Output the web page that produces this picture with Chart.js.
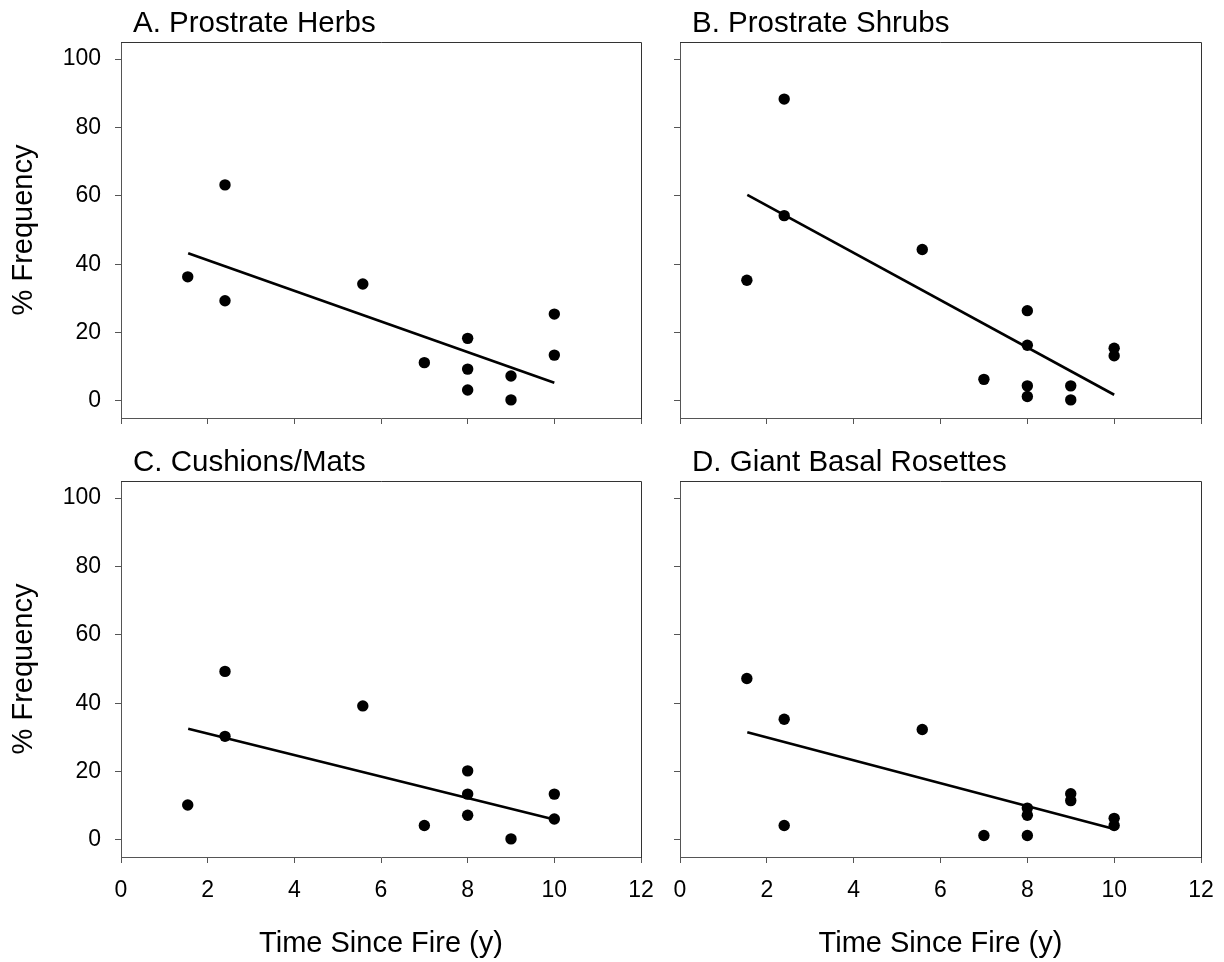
<!DOCTYPE html>
<html>
<head>
<meta charset="utf-8">
<script src="https://cdn.jsdelivr.net/npm/chart.js@4"></script>
<style>
  html, body { margin: 0; padding: 0; background: #fff; }
  #wrap { position: relative; width: 1224px; height: 962px; background: #fff; }
  #wrap canvas { position: absolute; left: 0; top: 0; }
</style>
</head>
<body>
<div id="wrap">
  <canvas id="cA" width="1224" height="962"></canvas>
  <canvas id="cB" width="1224" height="962"></canvas>
  <canvas id="cC" width="1224" height="962"></canvas>
  <canvas id="cD" width="1224" height="962"></canvas>
</div>
<script>
// ---- Data ----
const panelTitles = ["A. Prostrate Herbs", "B. Prostrate Shrubs", "C. Cushions/Mats", "D. Giant Basal Rosettes"];
const xTitle = "Time Since Fire (y)";
const yTitle = "% Frequency";
const xTicks = [0, 2, 4, 6, 8, 10, 12];
const yTicks = [0, 20, 40, 60, 80, 100];

const timeA = [1.54, 2.4, 2.4, 5.58, 7, 8, 8, 8, 9, 9, 10, 10];
const freqA = [36.3, 63.2, 29.3, 34.2, 11.2, 18.3, 9.3, 3.2, 7.3, 0.3, 25.4, 13.4];
const trendXA = [1.55, 10];
const trendYA = [43.2, 5.3];

const timeB = [1.54, 2.4, 2.4, 5.58, 7, 8, 8, 8, 8, 9, 9, 10, 10];
const freqB = [35.3, 88.3, 54.2, 44.3, 6.3, 26.4, 16.3, 4.4, 1.3, 4.4, 0.3, 15.4, 13.2];
const trendXB = [1.55, 10];
const trendYB = [60.3, 1.8];

const timeC = [1.54, 2.4, 2.4, 5.58, 7, 8, 8, 8, 9, 10, 10];
const freqC = [10.2, 49.3, 30.3, 39.2, 4.2, 20.2, 13.4, 7.2, 0.3, 13.4, 6.1];
const trendXC = [1.55, 10];
const trendYC = [32.5, 6.0];

const timeD = [1.54, 2.4, 2.4, 5.58, 7, 8, 8, 8, 9, 9, 10, 10];
const freqD = [47.2, 35.3, 4.2, 32.3, 1.3, 9.3, 7.2, 1.3, 13.5, 11.5, 6.3, 4.2];
const trendXD = [1.55, 10];
const trendYD = [31.5, 3.2];

// ---- Drawing ----
const FONT = '"Liberation Sans", Arial, Helvetica, sans-serif';
const AXIS_COLOR = '#555';

const framePlugin = {
  id: 'frame',
  afterDraw(chart) {
    const { ctx, chartArea: a } = chart;
    ctx.save();
    ctx.strokeStyle = '#333';
    ctx.lineWidth = 1;
    ctx.beginPath();
    const t = Math.round(a.top) + 0.5, r = Math.round(a.right) + 0.5;
    ctx.moveTo(Math.round(a.left), t);
    ctx.lineTo(r, t);
    ctx.lineTo(r, Math.round(a.bottom) + 1);
    ctx.stroke();
    ctx.restore();
  }
};

const panelTitlePlugin = {
  id: 'panelTitle',
  afterDraw(chart, args, opts) {
    const { ctx, chartArea: a } = chart;
    ctx.save();
    ctx.font = '29.5px ' + FONT;
    ctx.fillStyle = '#000';
    ctx.textAlign = 'left';
    ctx.textBaseline = 'alphabetic';
    ctx.fillText(opts.text, a.left + 12, a.top - 10);
    ctx.restore();
  }
};

function pts(xs, ys) { return xs.map((x, i) => ({ x: x, y: ys[i] })); }

function noPad(s) { s.paddingLeft = 0; s.paddingRight = 0; s.paddingTop = 0; s.paddingBottom = 0; }

function makePanel(id, title, xs, ys, txs, tys, layout) {
  const showXLabels = layout.bottomRow;
  const showYLabels = layout.leftCol;
  new Chart(document.getElementById(id), {
    type: 'scatter',
    data: {
      datasets: [
        {
          data: pts(xs, ys),
          pointRadius: 5.7,
          pointHoverRadius: 5.7,
          pointBackgroundColor: '#000',
          pointBorderWidth: 0,
          showLine: false
        },
        {
          data: pts(txs, tys),
          showLine: true,
          borderColor: '#000',
          borderWidth: 2.6,
          pointRadius: 0,
          pointHoverRadius: 0,
          fill: false
        }
      ]
    },
    options: {
      responsive: false,
      animation: false,
      events: [],
      devicePixelRatio: 1,
      layout: { padding: layout.padding },
      plugins: {
        legend: { display: false },
        tooltip: { enabled: false },
        title: { display: false },
        panelTitle: { text: title }
      },
      scales: {
        x: {
          type: 'linear',
          position: 'bottom',
          min: 0, max: 12,
          afterBuildTicks: s => { s.ticks = xTicks.map(v => ({ value: v })); },
          afterFit: s => { s.height = layout.xHeight; noPad(s); },
          grid: { display: true, drawOnChartArea: false, drawTicks: true, tickLength: 6, color: AXIS_COLOR, tickColor: AXIS_COLOR, tickWidth: 1 },
          border: { display: true, color: AXIS_COLOR, width: 1 },
          ticks: {
            display: showXLabels,
            autoSkip: false, maxRotation: 0, minRotation: 0,
            padding: 14,
            color: '#000',
            font: { family: FONT, size: 23 },
            callback: v => String(v)
          },
          title: {
            display: showXLabels,
            text: xTitle,
            color: '#000',
            font: { family: FONT, size: 29 },
            padding: { top: 0, bottom: 1 }
          }
        },
        y: {
          type: 'linear',
          position: 'left',
          min: -5, max: 105,
          afterBuildTicks: s => { s.ticks = yTicks.map(v => ({ value: v })); },
          afterFit: s => { s.width = layout.yWidth; noPad(s); },
          grid: { display: true, drawOnChartArea: false, drawTicks: true, tickLength: 6, color: AXIS_COLOR, tickColor: AXIS_COLOR, tickWidth: 1 },
          border: { display: true, color: AXIS_COLOR, width: 1 },
          ticks: {
            display: showYLabels,
            autoSkip: false,
            padding: 14,
            color: '#000',
            font: { family: FONT, size: 23 },
            callback: v => String(v)
          },
          title: {
            display: showYLabels,
            text: yTitle,
            color: '#000',
            font: { family: FONT, size: 29 },
            padding: { top: 7, bottom: 0 }
          }
        }
      }
    },
    plugins: [framePlugin, panelTitlePlugin]
  });
}

// Panel A: chart area 121..641 x 42..418
makePanel('cA', panelTitles[0], timeA, freqA, trendXA, trendYA, {
  leftCol: true, bottomRow: false, yWidth: 121, xHeight: 52,
  padding: { left: 0, top: 42, right: 1224 - 641, bottom: 962 - 418 - 52 }
});
// Panel B: chart area 680..1201 x 42..418
makePanel('cB', panelTitles[1], timeB, freqB, trendXB, trendYB, {
  leftCol: false, bottomRow: false, yWidth: 20, xHeight: 52,
  padding: { left: 660, top: 42, right: 1224 - 1201, bottom: 962 - 418 - 52 }
});
// Panel C: chart area 121..641 x 481..857
makePanel('cC', panelTitles[2], timeC, freqC, trendXC, trendYC, {
  leftCol: true, bottomRow: true, yWidth: 121, xHeight: 105,
  padding: { left: 0, top: 481, right: 1224 - 641, bottom: 0 }
});
// Panel D: chart area 680..1201 x 481..857
makePanel('cD', panelTitles[3], timeD, freqD, trendXD, trendYD, {
  leftCol: false, bottomRow: true, yWidth: 20, xHeight: 105,
  padding: { left: 660, top: 481, right: 1224 - 1201, bottom: 0 }
});
</script>
</body>
</html>
